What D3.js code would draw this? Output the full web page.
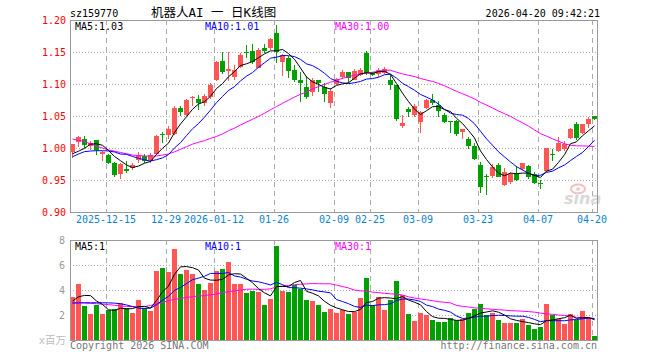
<!DOCTYPE html>
<html><head><meta charset="utf-8">
<script src="https://cdn.jsdelivr.net/npm/d3@7/dist/d3.min.js"></script>
<style>body{margin:0;background:#fff}svg{display:block}text{font-family:"DejaVu Sans Mono","Noto Sans CJK SC",monospace}</style>
</head><body>
<svg id="chart" width="660" height="360"></svg>
<script>
const dates = ["2025-12-05","2025-12-08","2025-12-09","2025-12-10","2025-12-11","2025-12-12","2025-12-15","2025-12-16","2025-12-17","2025-12-18","2025-12-19","2025-12-22","2025-12-23","2025-12-24","2025-12-25","2025-12-26","2025-12-29","2025-12-30","2025-12-31","2026-01-05","2026-01-06","2026-01-07","2026-01-08","2026-01-09","2026-01-12","2026-01-13","2026-01-14","2026-01-15","2026-01-16","2026-01-19","2026-01-20","2026-01-21","2026-01-22","2026-01-23","2026-01-26","2026-01-27","2026-01-28","2026-01-29","2026-01-30","2026-02-02","2026-02-03","2026-02-04","2026-02-05","2026-02-06","2026-02-09","2026-02-10","2026-02-11","2026-02-12","2026-02-13","2026-02-24","2026-02-25","2026-02-26","2026-02-27","2026-03-02","2026-03-03","2026-03-04","2026-03-05","2026-03-06","2026-03-09","2026-03-10","2026-03-11","2026-03-12","2026-03-13","2026-03-16","2026-03-17","2026-03-18","2026-03-19","2026-03-20","2026-03-23","2026-03-24","2026-03-25","2026-03-26","2026-03-27","2026-03-30","2026-03-31","2026-04-01","2026-04-02","2026-04-03","2026-04-07","2026-04-08","2026-04-09","2026-04-10","2026-04-13","2026-04-14","2026-04-15","2026-04-16","2026-04-17","2026-04-20"];
const opens = [0.994,1.009,1.014,1.003,1.0125,0.991,0.989,0.977,0.959,0.967,0.968,0.982,0.987,0.981,0.990,1.022,1.021,1.022,1.0625,1.051,1.0785,1.0766,1.071,1.079,1.106,1.136,1.121,1.1105,1.127,1.150,1.152,1.1255,1.157,1.157,1.179,1.135,1.141,1.122,1.106,1.096,1.088,1.106,1.096,1.070,1.0995,1.111,1.118,1.107,1.114,1.149,1.1167,1.115,1.1167,1.106,1.0984,1.035,1.061,1.0515,1.041,1.063,1.075,1.067,1.051,1.042,1.0427,1.0255,1.014,1.003,0.9734,0.957,0.956,0.9734,0.942,0.947,0.960,0.9667,0.9724,0.959,0.9455,0.964,0.991,0.9958,0.998,1.0152,1.0375,1.023,1.0375,1.050];
const highs = [1.007,1.018,1.018,1.011,1.013,0.996,0.990,0.978,0.976,0.979,0.976,0.993,0.990,0.992,1.021,1.025,1.034,1.066,1.066,1.076,1.081,1.083,1.084,1.101,1.136,1.150,1.150,1.129,1.148,1.161,1.162,1.157,1.1625,1.172,1.192,1.147,1.143,1.130,1.119,1.112,1.1095,1.106,1.101,1.093,1.110,1.122,1.118,1.124,1.125,1.152,1.119,1.125,1.126,1.114,1.099,1.051,1.0646,1.068,1.058,1.077,1.085,1.073,1.054,1.042,1.044,1.029,1.0177,1.0073,0.9786,0.960,0.9755,0.9766,0.969,0.962,0.972,0.977,0.974,0.963,0.950,1.0005,0.998,1.0177,1.011,1.031,1.0406,1.038,1.049,1.050];
const lows = [0.985,1.002,1.000,0.997,0.989,0.980,0.975,0.955,0.951,0.961,0.965,0.977,0.977,0.976,0.989,1.008,1.014,1.021,1.050,1.050,1.066,1.060,1.065,1.077,1.104,1.115,1.104,1.107,1.125,1.140,1.132,1.125,1.148,1.153,1.133,1.113,1.110,1.103,1.072,1.077,1.081,1.087,1.072,1.063,1.098,1.108,1.101,1.106,1.112,1.114,1.112,1.111,1.1156,1.0906,1.042,1.031,1.049,1.049,1.023,1.061,1.067,1.049,1.039,1.023,1.019,1.0135,0.998,0.981,0.930,0.927,0.953,0.954,0.9406,0.9437,0.949,0.966,0.952,0.9437,0.936,0.963,0.980,0.9943,0.996,1.014,1.0125,1.022,1.031,1.043];
const closes = [1.006,1.017,1.005,1.008,0.997,0.994,0.977,0.958,0.975,0.964,0.973,0.989,0.980,0.989,1.019,1.021,1.029,1.063,1.056,1.075,1.0795,1.070,1.081,1.099,1.135,1.118,1.123,1.122,1.146,1.149,1.135,1.153,1.152,1.170,1.150,1.145,1.121,1.107,1.102,1.080,1.107,1.101,1.084,1.089,1.108,1.119,1.109,1.121,1.122,1.117,1.114,1.122,1.124,1.0985,1.045,1.0385,1.0567,1.065,1.056,1.075,1.070,1.058,1.041,1.041,1.0219,1.029,1.0036,0.983,0.9396,0.955,0.971,0.955,0.963,0.960,0.950,0.976,0.9542,0.9458,0.944,1.000,0.990,1.0073,1.0063,1.0297,1.0152,1.0375,1.0453,1.046];
const volumes = [3.47,4.51,2.75,2.08,2.8,2.08,2.4,2.45,2.99,2.53,2.19,3.2,2.53,2.32,5.52,5.73,5.44,7.28,5.31,5.6,5.31,4.48,4.0,4.59,5.52,5.68,6.24,4.48,4.48,3.79,3.92,3.87,2.8,3.28,7.52,3.95,3.84,4.4,4.1,3.2,3.15,2.8,2.24,2.48,2.19,2.4,2.08,2.21,3.36,4.96,2.77,3.44,2.4,3.2,4.72,3.6,2.08,1.52,2.16,2.0,1.6,1.44,1.44,1.76,1.6,1.68,2.16,2.48,2.88,2.0,2.16,1.6,1.36,1.36,1.36,1.68,1.2,0.88,1.04,2.91,2.0,1.68,1.28,2.08,1.6,2.32,1.76,0.32];
const ma5Head = [0.991,0.995,0.9995,1.006];
const ma10Head = [0.9865,0.9906,0.9943,0.9953,0.9958,0.9958,0.9953,0.9938,0.9906];
const ma30Head = [1.014,1.012,1.010,1.0065,1.003,1.000,0.997,0.995,0.993,0.991,0.989,0.988,0.9875,0.9873,0.9875,0.989,0.9906,0.994,0.998,1.002,1.006,1.009,1.0115,1.015,1.018,1.022,1.027,1.031,1.036];
const volMa5Head = [3.12,3.45,3.57,3.55];
const volMa10Head = [2.95,2.97,2.98,2.98,2.98,2.98,2.97,2.95,2.9];
const volMa30Head = [2.99,2.98,2.96,2.93,2.9,2.87,2.83,2.78,2.72,2.69,2.67,2.67,2.67,2.76,2.88,3.02,3.15,3.25,3.33,3.4,3.47,3.52,3.55,3.62,3.68,3.78,3.87,3.93,4.0];
const priceTicks = [1.20,1.15,1.10,1.05,1.00,0.95,0.90];
const volTicks = [8,6,4,2];
const dateTicks = ["2025-12-15","2025-12-29","2026-01-12","2026-01-26","2026-02-09","2026-02-25","2026-03-09","2026-03-23","2026-04-07","2026-04-20"];
const dateTickLabels = ["2025-12-15","12-29","2026-01-12","01-26","02-09","02-25","03-09","03-23","04-07","04-20"];
const code = "sz159770";
const title = "机器人AI 一 日K线图";
const stamp = "2026-04-20 09:42:21";
const priceLegend = ["MA5:1.03","MA10:1.01","MA30:1.00"];
const volLegend = ["MA5:1","MA10:1","MA30:1"];

function movingAvg(vals, n, head){
  return vals.map((v,i)=> i < n-1 ? head[i] : d3.mean(vals.slice(i-n+1,i+1)));
}

const RED="#ff5555", GREEN="#00a000", GRID="#aaaaaa";
const L=70, R=597, PT=20, PB=212, VT=240, VB=340;
const svg = d3.select("#chart");
const x = d3.scaleBand().domain(dates).range([L, L+6*dates.length]).padding(0);
const y = d3.scaleLinear().domain([0.90,1.20]).range([PB,PT]);
const yv = d3.scaleLinear().domain([0,8]).range([VB,VT]);
const cx = d => x(d)+2.5;

// header
svg.append("text").attr("x",70).attr("y",17).attr("font-size",10).text(code);
svg.append("text").attr("x",151).attr("y",17).attr("font-size",12.5).text(title);
svg.append("text").attr("x",600).attr("y",17).attr("text-anchor","end").attr("font-size",10).text(stamp);

// grids
const g = svg.append("g");
g.selectAll(".hg").data(priceTicks.slice(1,-1)).join("line")
  .attr("x1",L).attr("x2",R).attr("y1",d=>Math.round(y(d))+0.5).attr("y2",d=>Math.round(y(d))+0.5)
  .attr("stroke",GRID).attr("stroke-dasharray","1,2");
g.selectAll(".hv").data(volTicks.slice(1)).join("line")
  .attr("x1",L).attr("x2",R).attr("y1",d=>Math.round(yv(d))+0.5).attr("y2",d=>Math.round(yv(d))+0.5)
  .attr("stroke",GRID).attr("stroke-dasharray","1,2");
[[PT,PB],[VT,VB]].forEach(([a,b])=>{
  g.append("g").selectAll("line").data(dateTicks).join("line")
    .attr("x1",d=>x(d)+0.5).attr("x2",d=>x(d)+0.5).attr("y1",a).attr("y2",b)
    .attr("stroke",GRID).attr("stroke-dasharray","5,4");
});

// watermark
const wm = svg.append("g");
wm.append("ellipse").attr("cx",578).attr("cy",189).attr("rx",7).attr("ry",4.5).attr("fill","none").attr("stroke","#f2c0c0").attr("stroke-width",2);
wm.append("circle").attr("cx",578).attr("cy",189).attr("r",1.8).attr("fill","#f2c0c0");
wm.append("text").attr("x",564).attr("y",204).attr("font-size",16).attr("font-style","italic").attr("font-weight","bold")
  .attr("fill","#d8d8d8").style("font-family","DejaVu Sans").text("sina");

// candles
const up = i => closes[i] >= opens[i];
const cg = svg.append("g").attr("shape-rendering","crispEdges");
cg.selectAll(".wick").data(dates).join("rect")
  .attr("x",d=>x(d)+2).attr("width",1)
  .attr("y",(d,i)=>Math.round(y(highs[i])))
  .attr("height",(d,i)=>Math.max(1,Math.round(y(lows[i]))-Math.round(y(highs[i]))))
  .attr("fill",(d,i)=>up(i)?RED:GREEN);
cg.selectAll(".body").data(dates).join("rect")
  .attr("x",d=>x(d)).attr("width",5)
  .attr("y",(d,i)=>Math.round(y(Math.max(opens[i],closes[i]))))
  .attr("height",(d,i)=>Math.max(1,Math.round(y(Math.min(opens[i],closes[i])))-Math.round(y(Math.max(opens[i],closes[i])))))
  .attr("fill",(d,i)=>up(i)?RED:GREEN);

// volume bars
cg.selectAll(".vol").data(dates).join("rect")
  .attr("x",d=>x(d)).attr("width",5)
  .attr("y",(d,i)=>Math.round(yv(volumes[i])))
  .attr("height",(d,i)=>VB-Math.round(yv(volumes[i])))
  .attr("fill",(d,i)=>up(i)?RED:GREEN);

// MA lines
const lineP = d3.line().x((v,i)=>cx(dates[i])).y(v=>y(v));
const lineV = d3.line().x((v,i)=>cx(dates[i])).y(v=>yv(v));
const maDefs = [[5,ma5Head,volMa5Head,"#000000"],[10,ma10Head,volMa10Head,"#0000ff"],[30,ma30Head,volMa30Head,"#ff00ff"]];
maDefs.slice().reverse().forEach(([n,hp,hv,col])=>{
  svg.append("path").attr("d",lineP(movingAvg(closes,n,hp))).attr("fill","none").attr("stroke",col).attr("stroke-width",1);
  svg.append("path").attr("d",lineV(movingAvg(volumes,n,hv))).attr("fill","none").attr("stroke",col).attr("stroke-width",1);
});

// frames
svg.append("rect").attr("x",L+0.5).attr("y",PT+0.5).attr("width",R-L).attr("height",PB-PT).attr("fill","none").attr("stroke","#999");
svg.append("rect").attr("x",L+0.5).attr("y",VT+0.5).attr("width",R-L).attr("height",VB-VT).attr("fill","none").attr("stroke","#999");

// axes
const ay = svg.append("g").attr("transform",`translate(${L},0)`)
  .call(d3.axisLeft(y).tickValues(priceTicks).tickFormat(d3.format(".2f")).tickSize(0).tickPadding(4));
ay.select(".domain").remove();
ay.selectAll("text").attr("fill","#ff0000").attr("font-size",10).style("font-family","DejaVu Sans Mono");
const av = svg.append("g").attr("transform",`translate(${L},0)`)
  .call(d3.axisLeft(yv).tickValues(volTicks).tickFormat(d3.format("d")).tickSize(0).tickPadding(5));
av.select(".domain").remove();
av.selectAll("text").attr("fill","#999").attr("font-size",10).style("font-family","DejaVu Sans Mono");
const ax = svg.append("g").attr("transform",`translate(-3,${PB})`)
  .call(d3.axisBottom(x).tickValues(dateTicks).tickFormat((d,i)=>dateTickLabels[i]).tickSize(0).tickPadding(4));
ax.select(".domain").remove();
ax.selectAll("text").attr("fill","#0a82d8").attr("font-size",10).style("font-family","DejaVu Sans Mono").attr("dy","0.71em");

svg.append("text").attr("x",66).attr("y",344).attr("text-anchor","end").attr("font-size",10.5).attr("fill","#bbb").text("x百万");

// legends
const legCols = ["#000000","#0000ff","#ff00ff"], legX=[75,205,335];
priceLegend.forEach((t,i)=>svg.append("text").attr("x",legX[i]).attr("y",30).attr("font-size",10).attr("fill",legCols[i]).text(t));
volLegend.forEach((t,i)=>svg.append("text").attr("x",legX[i]).attr("y",250).attr("font-size",10).attr("fill",legCols[i]).text(t));

// footer
svg.append("text").attr("x",70).attr("y",349).attr("font-size",10).attr("fill","#777").text("Copyright 2026 SINA.COM");
svg.append("text").attr("x",597).attr("y",349).attr("text-anchor","end").attr("font-size",10).attr("fill","#777").text("http://finance.sina.com.cn");
</script>
</body></html>
